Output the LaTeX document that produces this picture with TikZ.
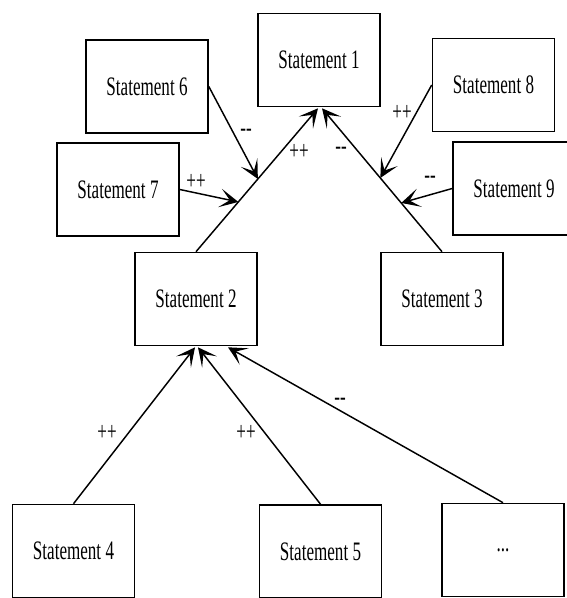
\documentclass[tikz,border=0pt]{standalone}
\usepackage{fontspec}
\setmainfont{Liberation Serif}[FakeStretch=0.64]
\usetikzlibrary{arrows.meta,calc}
\begin{document}
\begin{tikzpicture}[x=0.75pt,y=-0.75pt,
  stmt/.style={draw,line width=1.2pt,minimum width=91.5pt,minimum height=69.75pt,inner sep=0pt,font=\fontsize{20}{24}\selectfont},
  conn/.style={line width=1.1pt,-{Stealth[length=14pt,width=14pt,inset=7.5pt]}},
  lbl/.style={inner sep=0pt,font=\fontsize{20}{24}\selectfont}]
\useasboundingbox (0,0) rectangle (566,598);
\node[stmt] (s1) at (319,60) {Statement 1};
\node[stmt] (s6) at (147,86.5) {Statement 6};
\node[stmt] (s8) at (493.5,85) {Statement 8};
\node[stmt] (s7) at (118,189.5) {Statement 7};
\node[stmt] (s9) at (514,188.5) {Statement 9};
\node[stmt] (s2) at (196,299) {Statement 2};
\node[stmt] (s3) at (442,299) {Statement 3};
\node[stmt] (s4) at (73.5,551) {Statement 4};
\node[stmt] (s5) at (320.5,551.5) {Statement 5};
\node[stmt] (s10) at (503,550) {...};
\coordinate (t1l) at ($(s1.south)+(-1,1)$);
\coordinate (t1r) at ($(s1.south)+(3,1)$);
\path (s2.north) -- (t1l) coordinate[pos=0.507] (m6) coordinate[pos=0.347] (m7);
\path (s3.north) -- (t1r) coordinate[pos=0.514] (m8) coordinate[pos=0.34] (m9);
\coordinate (t2a) at ($(s2.south)+(-1,1)$);
\coordinate (t2b) at ($(s2.south)+(2,1)$);
\coordinate (t2c) at ($(s2.south)+(32,1)$);
\draw[conn] (s2.north) -- (t1l);
\draw[conn] (s3.north) -- (t1r);
\draw[conn] (s6.east) -- (m6);
\draw[conn] (s7.east) -- (m7);
\draw[conn] (s8.west) -- (m8);
\draw[conn] (s9.west) -- (m9);
\draw[conn] (s4.north) -- (t2a);
\draw[conn] (s5.north) -- (t2b);
\draw[conn] (s10.north) -- (t2c);
\node[lbl] (l21) at (299,152) {++};
\node[lbl] (l31) at (341,151) {{-}{-}};
\node[lbl] (l6) at (246,133) {{-}{-}};
\node[lbl] (l7) at (196,182) {++};
\node[lbl] (l8) at (402,113) {++};
\node[lbl] (l9) at (430,180) {{-}{-}};
\node[lbl] (l4) at (107,433) {++};
\node[lbl] (l5) at (246,433) {++};
\node[lbl] (l10) at (340,402) {{-}{-}};
\end{tikzpicture}
\end{document}
